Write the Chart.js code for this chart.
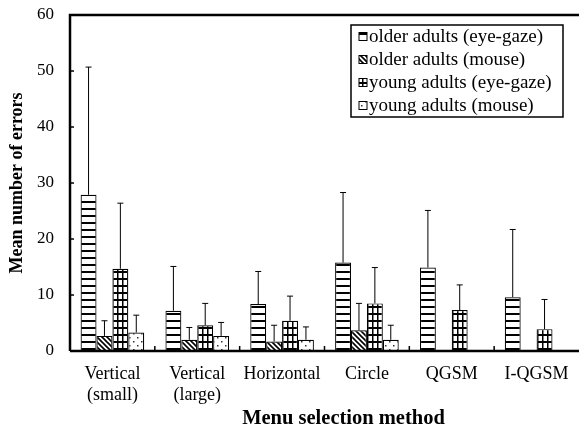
<!DOCTYPE html>
<html>
<head>
<meta charset="utf-8">
<script src="https://cdn.jsdelivr.net/npm/chart.js@4.4.1/dist/chart.umd.min.js"></script>
<style>
  html, body { margin: 0; padding: 0; background: #fff; }
  #box { width: 579px; height: 440px; }
</style>
</head>
<body>
<div id="box"><canvas id="errChart"></canvas></div>
<script>
// categories on the x axis
const methods = [['Vertical', '(small)'], ['Vertical', '(large)'], 'Horizontal', 'Circle', 'QGSM', 'I-QGSM'];
const seriesNames = ['older adults (eye-gaze)', 'older adults (mouse)', 'young adults (eye-gaze)', 'young adults (mouse)'];

// mean number of errors
const olderGaze  = [27.9, 7.2, 8.4, 15.8, 14.9, 9.6];
const olderMouse = [2.7, 2.0, 1.7, 3.7, null, null];
const youngGaze  = [14.7, 4.6, 5.4, 8.5, 7.3, 3.9];
const youngMouse = [3.3, 2.7, 2.0, 2.0, null, null];

// standard deviations (upper error bars)
const olderGazeSd  = [22.8, 7.9, 5.8, 12.5, 10.2, 12.1];
const olderMouseSd = [2.7, 2.2, 2.9, 4.8, null, null];
const youngGazeSd  = [11.7, 3.9, 4.4, 6.4, 4.5, 5.3];
const youngMouseSd = [3.1, 2.4, 2.3, 2.6, null, null];

const yTicks = [0, 10, 20, 30, 40, 50, 60];

const FONT = "'Liberation Serif', 'Times New Roman', serif";

// fill patterns
function makePattern(kind) {
    const c = document.createElement('canvas');
    const g = c.getContext('2d');
    if (kind === 'hlines') {
        c.width = 8; c.height = 7;
        g.fillStyle = '#fff'; g.fillRect(0, 0, 8, 7);
        g.fillStyle = '#000'; g.fillRect(0, 5, 8, 2);
    } else if (kind === 'diag') {
        c.width = 5; c.height = 5;
        g.fillStyle = '#fff'; g.fillRect(0, 0, 5, 5);
        g.strokeStyle = '#000'; g.lineWidth = 1.6;
        g.beginPath();
        g.moveTo(-1, -1); g.lineTo(6, 6);
        g.moveTo(-1, 4); g.lineTo(1, 6);
        g.moveTo(4, -1); g.lineTo(6, 1);
        g.stroke();
    } else if (kind === 'grid') {
        c.width = 5; c.height = 7;
        g.fillStyle = '#fff'; g.fillRect(0, 0, 5, 7);
        g.fillStyle = '#000';
        g.fillRect(0, 5, 5, 2);
        g.fillRect(2, 0, 1.5, 7);
    } else {
        c.width = 8; c.height = 8;
        g.fillStyle = '#fff'; g.fillRect(0, 0, 8, 8);
        g.fillStyle = '#333';
        g.fillRect(1, 1, 1.5, 1.5);
        g.fillRect(5, 5, 1.5, 1.5);
    }
    return g.createPattern(c, 'repeat');
}

const fills = [makePattern('hlines'), makePattern('diag'), makePattern('grid'), makePattern('dots')];
const sds = [olderGazeSd, olderMouseSd, youngGazeSd, youngMouseSd];

// upper error bars, frame, inner tick marks and legend
const extras = {
    id: 'extras',
    afterDatasetsDraw(chart) {
        const ctx = chart.ctx;
        const y = chart.scales.y;
        ctx.save();
        ctx.strokeStyle = '#000';
        ctx.lineWidth = 1;
        chart.data.datasets.forEach((ds, d) => {
            const meta = chart.getDatasetMeta(d);
            meta.data.forEach((bar, i) => {
                const v = ds.data[i];
                const sd = sds[d][i];
                if (v == null || sd == null) return;
                const top = y.getPixelForValue(v + sd);
                ctx.beginPath();
                ctx.moveTo(bar.x, bar.y);
                ctx.lineTo(bar.x, top);
                ctx.moveTo(bar.x - 3, top);
                ctx.lineTo(bar.x + 3, top);
                ctx.stroke();
            });
        });
        ctx.restore();
    },
    afterDraw(chart) {
        const ctx = chart.ctx;
        const a = chart.chartArea;
        const x = chart.scales.x;
        const y = chart.scales.y;
        ctx.save();
        ctx.strokeStyle = '#000';
        // frame
        ctx.lineWidth = 2.5;
        ctx.beginPath();
        ctx.moveTo(a.left, a.bottom);
        ctx.lineTo(a.left, a.top);
        ctx.lineTo(chart.width, a.top);
        ctx.moveTo(a.left, a.bottom);
        ctx.lineTo(chart.width, a.bottom);
        ctx.stroke();
        // inner ticks
        ctx.lineWidth = 1.5;
        ctx.beginPath();
        for (let i = 0; i < methods.length - 1; i++) {
            const px = (x.getPixelForTick(i) + x.getPixelForTick(i + 1)) / 2;
            ctx.moveTo(px, a.bottom);
            ctx.lineTo(px, a.bottom - 5);
        }
        yTicks.slice(1, -1).forEach(t => {
            const py = y.getPixelForValue(t);
            ctx.moveTo(a.left, py);
            ctx.lineTo(a.left + 4, py);
        });
        ctx.stroke();

        // x title
        ctx.fillStyle = '#000';
        ctx.font = 'bold 20.5px ' + FONT;
        ctx.textAlign = 'center';
        ctx.textBaseline = 'alphabetic';
        ctx.fillText('Menu selection method', (a.left + a.right) / 2 + 19, 424);

        // legend
        const lx = a.left + 281, ly = a.top + 10, lw = 212, lh = 92;
        ctx.lineWidth = 1.5;
        ctx.fillStyle = '#fff';
        ctx.fillRect(lx, ly, lw, lh);
        ctx.strokeRect(lx, ly, lw, lh);
        ctx.font = '19px ' + FONT;
        ctx.textAlign = 'left';
        ctx.textBaseline = 'middle';
        seriesNames.forEach((name, i) => {
            const cy = ly + 11.5 + i * 23;
            ctx.fillStyle = fills[i];
            ctx.fillRect(lx + 8, cy - 4, 8, 8);
            ctx.lineWidth = 1;
            ctx.strokeRect(lx + 8, cy - 4, 8, 8);
            ctx.fillStyle = '#000';
            ctx.fillText(name, lx + 18, cy + 1);
        });
        ctx.restore();
    }
};

const data = {
    labels: methods,
    datasets: [olderGaze, olderMouse, youngGaze, youngMouse].map((vals, i) => ({
        label: seriesNames[i],
        data: vals,
        backgroundColor: fills[i],
        borderColor: '#000',
        borderWidth: 1.2,
        categoryPercentage: 0.75,
        barPercentage: 1.0,
    })),
};

const config = {
    type: 'bar',
    data: data,
    options: {
        responsive: true,
        maintainAspectRatio: false,
        animation: false,
        layout: { padding: { top: 15, right: 0, left: 0, bottom: 0 } },
        plugins: {
            legend: { display: false },
            tooltip: { enabled: false },
        },
        scales: {
            x: {
                grid: { display: false, drawTicks: false },
                border: { display: false },
                ticks: {
                    color: '#000',
                    font: { family: FONT, size: 18 },
                    padding: 12,
                    maxRotation: 0,
                    autoSkip: false,
                },
                afterFit: s => { s.height = 89; s.paddingLeft = 0; s.paddingRight = 0; },
            },
            y: {
                min: 0,
                max: 60,
                grid: { display: false, drawTicks: false },
                border: { display: false },
                ticks: {
                    stepSize: 10,
                    color: '#000',
                    font: { family: FONT, size: 17 },
                    padding: 16,
                },
                title: {
                    display: true,
                    text: 'Mean number of errors',
                    color: '#000',
                    font: { family: FONT, size: 18, weight: 'bold' },
                    padding: { top: 7, bottom: 0 },
                },
                afterFit: s => { s.width = 70; s.paddingTop = 0; s.paddingBottom = 0; },
            },
        },
    },
    plugins: [extras],
};

var ctx = document.getElementById('errChart').getContext('2d');
var errChart = new Chart(ctx, config);
</script>
</body>
</html>
